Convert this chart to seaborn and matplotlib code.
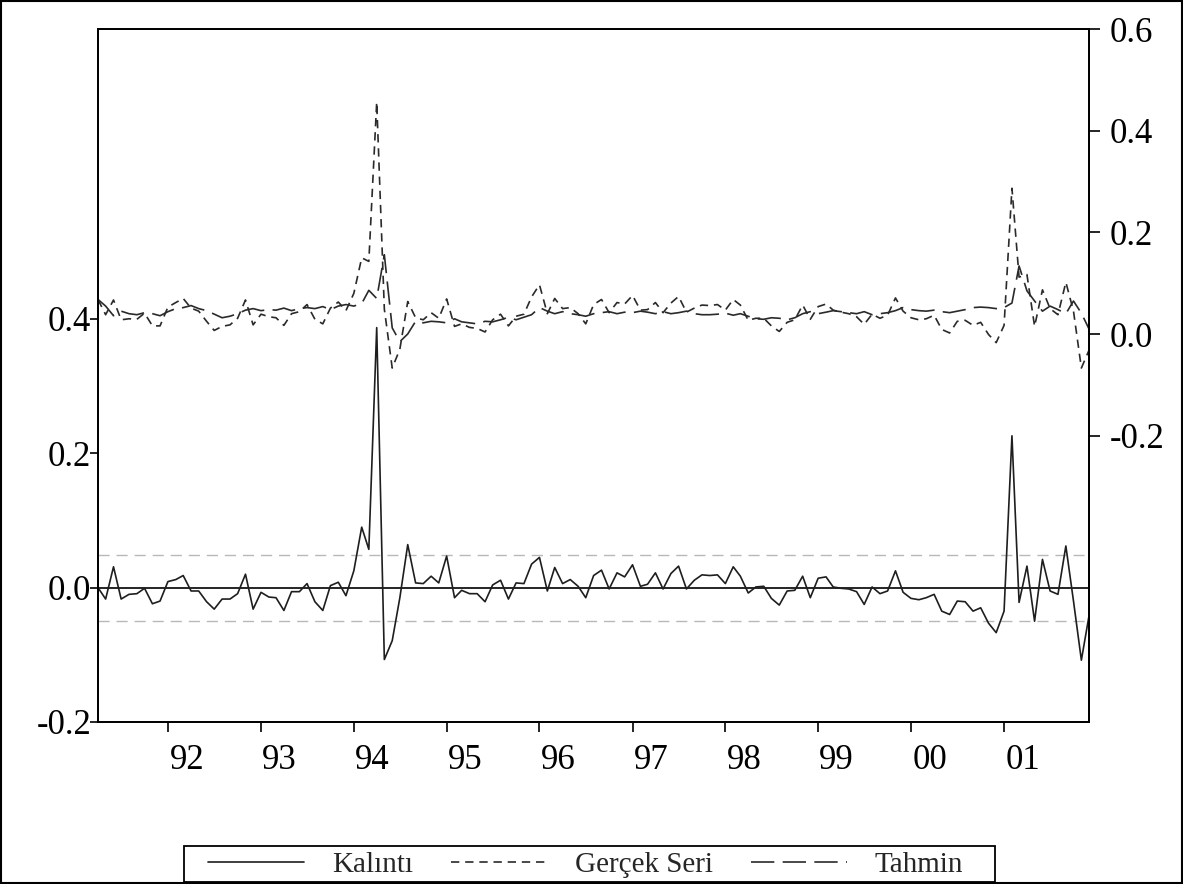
import numpy as np
import pandas as pd
import seaborn as sns
import matplotlib.pyplot as plt
from matplotlib.patches import Rectangle

# monthly sample 1991M04 - 2001M12
months = pd.date_range('1991-04-01', periods=129, freq='MS')

# residual (left axis)
resid = [0.000, -0.017, 0.031, -0.017, -0.010, -0.009, -0.001, -0.024, -0.020,
         0.009, 0.012, 0.018, -0.005, -0.005, -0.021, -0.032, -0.017, -0.017, -0.009, 0.020, -0.032,
         -0.007, -0.014, -0.015, -0.034, -0.006, -0.006, 0.006, -0.021, -0.034, 0.003, 0.008, -0.012,
         0.025, 0.090, 0.057, 0.387, -0.107, -0.079, -0.015, 0.064, 0.007, 0.006, 0.017, 0.007,
         0.047, -0.015, -0.004, -0.009, -0.009, -0.021, 0.004, 0.011, -0.017, 0.007, 0.006, 0.035,
         0.045, -0.005, 0.030, 0.006, 0.012, 0.002, -0.015, 0.018, 0.026, -0.002, 0.022, 0.016,
         0.034, 0.002, 0.005, 0.022, -0.002, 0.021, 0.032, -0.002, 0.011, 0.019, 0.018, 0.019,
         0.006, 0.031, 0.017, -0.008, 0.001, 0.002, -0.016, -0.026, -0.005, -0.004, 0.017, -0.015,
         0.014, 0.016, 0.001, -0.001, -0.002, -0.006, -0.025, 0.001, -0.009, -0.005, 0.025, -0.007,
         -0.016, -0.018, -0.015, -0.010, -0.035, -0.040, -0.020, -0.021, -0.035, -0.030, -0.053, -0.067,
         -0.035, 0.226, -0.022, 0.032, -0.050, 0.042, -0.005, -0.010, 0.062, -0.020, -0.108, -0.042]

# actual series (right axis)
actual = [0.068, 0.038, 0.067, 0.028, 0.030, 0.029, 0.041, 0.016, 0.016,
          0.053, 0.062, 0.070, 0.051, 0.045, 0.025, 0.007, 0.015, 0.018, 0.031, 0.067, 0.018,
          0.039, 0.034, 0.032, 0.017, 0.040, 0.044, 0.058, 0.029, 0.020, 0.051, 0.063, 0.046,
          0.080, 0.150, 0.143, 0.457, 0.049, -0.067, -0.030, 0.064, 0.032, 0.028, 0.042, 0.031,
          0.069, 0.015, 0.020, 0.013, 0.011, 0.004, 0.028, 0.039, 0.016, 0.035, 0.039, 0.073,
          0.097, 0.040, 0.070, 0.050, 0.052, 0.040, 0.020, 0.058, 0.068, 0.042, 0.062, 0.059,
          0.076, 0.047, 0.048, 0.062, 0.042, 0.061, 0.074, 0.043, 0.051, 0.057, 0.056, 0.058,
          0.047, 0.068, 0.057, 0.027, 0.031, 0.031, 0.016, 0.005, 0.023, 0.028, 0.057, 0.029,
          0.054, 0.059, 0.047, 0.043, 0.040, 0.034, 0.019, 0.039, 0.031, 0.037, 0.071, 0.045,
          0.032, 0.028, 0.030, 0.037, 0.009, 0.002, 0.025, 0.027, 0.017, 0.023, -0.001, -0.017,
          0.017, 0.287, 0.112, 0.117, 0.015, 0.087, 0.050, 0.038, 0.102, 0.045, -0.067, -0.032]

# fitted series (right axis)
fitted = [0.068, 0.055, 0.036, 0.045, 0.040, 0.038, 0.042, 0.040, 0.036,
          0.044, 0.050, 0.052, 0.056, 0.050, 0.046, 0.039, 0.032, 0.035, 0.040, 0.047, 0.050,
          0.046, 0.048, 0.047, 0.051, 0.046, 0.050, 0.052, 0.050, 0.054, 0.048, 0.055, 0.058,
          0.055, 0.060, 0.086, 0.070, 0.156, 0.012, -0.015, 0.000, 0.025, 0.022, 0.025, 0.024,
          0.022, 0.030, 0.024, 0.022, 0.020, 0.025, 0.024, 0.028, 0.033, 0.028, 0.033, 0.038,
          0.052, 0.045, 0.040, 0.044, 0.040, 0.038, 0.035, 0.040, 0.042, 0.044, 0.040, 0.043,
          0.042, 0.045, 0.043, 0.040, 0.044, 0.040, 0.042, 0.045, 0.040, 0.038, 0.038, 0.039,
          0.041, 0.037, 0.040, 0.035, 0.030, 0.029, 0.032, 0.031, 0.028, 0.032, 0.040, 0.044,
          0.040, 0.043, 0.046, 0.044, 0.042, 0.040, 0.044, 0.038, 0.040, 0.042, 0.046, 0.052,
          0.048, 0.046, 0.045, 0.047, 0.044, 0.042, 0.045, 0.048, 0.052, 0.053, 0.052, 0.050,
          0.052, 0.061, 0.134, 0.085, 0.065, 0.045, 0.055, 0.048, 0.040, 0.065, 0.041, 0.010]

resid_sd = 0.049
year_labels = ['92', '93', '94', '95', '96', '97', '98', '99', '00', '01']
left_ticks = [-0.2, 0.0, 0.2, 0.4]
right_ticks = [-0.2, 0.0, 0.2, 0.4, 0.6]

df = pd.DataFrame({'date': months, 'Kalıntı': resid,
                   'Gerçek Seri': actual, 'Tahmin': fitted})

sns.set_style('ticks')
plt.rcParams['font.family'] = ['Liberation Serif', 'DejaVu Serif']

W, H = 1183, 884
fig = plt.figure(figsize=(W / 100, H / 100), dpi=100)
ax = fig.add_axes([98 / W, 1 - 722 / H, (1089 - 98) / W, (722 - 29.3) / H])
ax2 = ax.twinx()

# residual panel
ax.axhline(0, color='black', lw=1.2, zorder=1)
for s in (resid_sd, -resid_sd):
    ax.axhline(s, color='#b8b8b8', lw=1.0, linestyle=(0, (8, 5)), zorder=1)
sns.lineplot(data=df, x='date', y='Kalıntı', ax=ax, color='#1e1e1e', lw=1.2,
             label='Kalıntı', legend=False)

# actual / fitted panel
sns.lineplot(data=df, x='date', y='Gerçek Seri', ax=ax2, color='#2a2a2a', lw=1.2,
             linestyle=(0, (5, 3.5)), label='Gerçek Seri', legend=False)
sns.lineplot(data=df, x='date', y='Tahmin', ax=ax2, color='#2a2a2a', lw=1.2,
             linestyle=(0, (14, 5)), label='Tahmin', legend=False)

ax.set_xlim(months[0], months[-1])
ax.set_ylim(-0.2, 0.831)
ax2.set_ylim(-0.764, 0.6)
ax.set_xlabel('')
ax.set_ylabel('')
ax2.set_ylabel('')

ax.set_yticks(left_ticks)
ax.set_yticklabels([f'{v:.1f}' for v in left_ticks])
ax2.set_yticks(right_ticks)
ax2.set_yticklabels([f'{v:.1f}' for v in right_ticks])

jan_ticks = [pd.Timestamp(f'{1992 + k}-01-01') for k in range(len(year_labels))]
lab_pos = [pd.Timestamp(f'{1992 + k}-03-15') for k in range(len(year_labels))]
ax.set_xticks(jan_ticks)
ax.set_xticklabels([])
ax.set_xticks(lab_pos, minor=True)
ax.set_xticklabels(year_labels, minor=True)

ax.tick_params(axis='x', which='major', direction='out', length=7.2, width=1.2, color='black')
ax.tick_params(axis='x', which='minor', length=0, pad=16, labelsize=25, labelcolor='black')
ax.tick_params(axis='y', direction='out', length=5.8, width=1.2, pad=-1,
               labelsize=25, labelcolor='black', color='black')
ax2.tick_params(axis='y', direction='out', length=8, width=1.2, pad=7,
                labelsize=25, labelcolor='black', color='black')

for a in (ax, ax2):
    for sp in a.spines.values():
        sp.set_visible(True)
        sp.set_color('black')
        sp.set_linewidth(1.3)

handles, labels = [], []
for a in (ax, ax2):
    h, l = a.get_legend_handles_labels()
    handles += h
    labels += l
leg = fig.legend(handles, labels, loc='center', ncol=3, mode='expand',
                 bbox_to_anchor=(205 / W, 1 - 883 / H, (966 - 205) / W, 37 / H),
                 fontsize=21, frameon=False, handlelength=3.3,
                 handletextpad=0.95, borderpad=0.1, borderaxespad=0)

# legend box
fig.patches.append(Rectangle((184 / W, 1 - 882 / H), (995 - 184) / W, 36 / H,
                             transform=fig.transFigure, fill=False, ec='black', lw=1.3))
# outer frame
fig.patches.append(Rectangle((0.001, 0.001), 0.998, 0.998, transform=fig.transFigure,
                             fill=False, ec='black', lw=1.5))

fig.savefig('out.png', dpi=100)
